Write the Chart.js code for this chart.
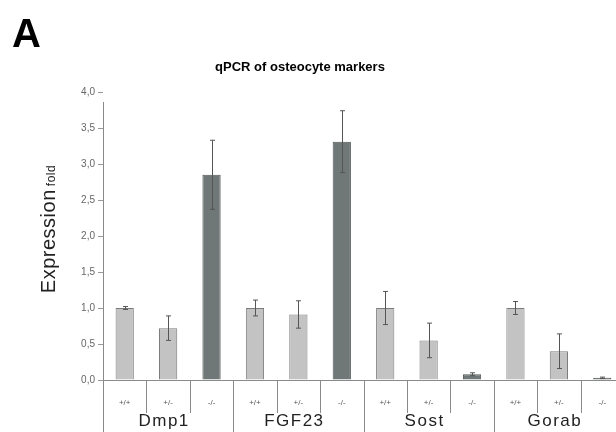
<!DOCTYPE html>
<html>
<head>
<meta charset="utf-8">
<script src="https://cdn.jsdelivr.net/npm/chart.js@4"></script>
<style>
  html, body { margin: 0; padding: 0; background: #fff; overflow: hidden; }
  #wrap { width: 640px; height: 432px; position: relative; }
</style>
</head>
<body>
<div id="wrap"><canvas id="chart"></canvas></div>
<script>
// data
const genes = ['Dmp1', 'FGF23', 'Sost', 'Gorab'];
const genotypes = ['+/+', '+/-', '-/-'];
const labels = [];
genes.forEach(g => genotypes.forEach(t => labels.push(g + ' ' + t)));

const values = [1.0, 0.72, 2.85, 1.0, 0.91, 3.31, 1.0, 0.55, 0.08, 1.0, 0.40, 0.03];
const errors = [0.02, 0.17, 0.48, 0.11, 0.19, 0.43, 0.23, 0.24, 0.02, 0.09, 0.24, 0.01];
const yTicks = [0, 0.5, 1, 1.5, 2, 2.5, 3, 3.5, 4];

const light = '#c3c3c3', lightBorder = '#7c7c7c';
const dark = '#6f7777', darkBorder = '#505656';
const isKO = (i) => i % 3 === 2;

const errorBars = {
  id: 'errorBars',
  afterDatasetsDraw(chart) {
    const ctx = chart.ctx, x = chart.scales.x, y = chart.scales.y;
    ctx.save();
    ctx.strokeStyle = '#555';
    ctx.lineWidth = 1;
    values.forEach((v, i) => {
      const px = Math.round(x.getPixelForValue(i)) + 0.5;
      const top = y.getPixelForValue(v + errors[i]);
      const bot = y.getPixelForValue(v - errors[i]);
      ctx.beginPath();
      ctx.moveTo(px, top); ctx.lineTo(px, bot);
      ctx.moveTo(px - 2.5, top); ctx.lineTo(px + 2.5, top);
      ctx.moveTo(px - 2.5, bot); ctx.lineTo(px + 2.5, bot);
      ctx.stroke();
    });
    ctx.restore();
  }
};

const decorations = {
  id: 'decorations',
  afterDraw(chart) {
    const ctx = chart.ctx, x = chart.scales.x, y = chart.scales.y;
    const area = chart.chartArea;
    const step = x.getPixelForValue(1) - x.getPixelForValue(0);
    ctx.save();

    // panel letter and title
    ctx.fillStyle = '#000';
    ctx.font = 'bold 40px "Liberation Sans", Arial, sans-serif';
    ctx.textBaseline = 'alphabetic';
    ctx.textAlign = 'left';
    ctx.fillText('A', 12, 47);
    ctx.font = 'bold 13px "Liberation Sans", Arial, sans-serif';
    ctx.textAlign = 'center';
    ctx.textBaseline = 'middle';
    ctx.fillText('qPCR of osteocyte markers', 300, 67);

    // y axis title, both words on one baseline
    ctx.save();
    ctx.translate(55, 229);
    ctx.rotate(-Math.PI / 2);
    ctx.fillStyle = '#222';
    ctx.textAlign = 'left';
    ctx.textBaseline = 'alphabetic';
    ctx.font = '20px "Liberation Sans", Arial, sans-serif';
    ctx.letterSpacing = '0.5px';
    const w1 = ctx.measureText('Expression').width;
    ctx.font = '12px "Liberation Sans", Arial, sans-serif';
    const w2 = ctx.measureText('fold').width;
    const start = -(w1 + 3 + w2) / 2;
    ctx.font = '20px "Liberation Sans", Arial, sans-serif';
    ctx.fillText('Expression', start, 0);
    ctx.font = '12px "Liberation Sans", Arial, sans-serif';
    ctx.fillText('fold', start + w1 + 3, 0);
    ctx.restore();

    // axis lines below zero and category separators
    ctx.strokeStyle = '#8a8a8a';
    ctx.lineWidth = 1;
    const base = Math.round(area.bottom) + 0.5;
    ctx.beginPath();
    ctx.moveTo(Math.round(area.left) + 0.5, area.top + 10);
    ctx.lineTo(Math.round(area.left) + 0.5, 432);
    for (let i = 1; i <= labels.length; i++) {
      const px = Math.round(x.getPixelForValue(i) - step / 2) + 0.5;
      ctx.moveTo(px, base);
      ctx.lineTo(px, i % 3 === 0 ? 432 : 413);
    }
    ctx.stroke();

    // genotype labels
    ctx.fillStyle = '#555';
    ctx.font = '8px "Liberation Sans", Arial, sans-serif';
    ctx.textAlign = 'center';
    ctx.textBaseline = 'middle';
    labels.forEach((l, i) => {
      ctx.fillText(genotypes[i % 3], x.getPixelForValue(i), 403);
    });

    // gene labels
    ctx.fillStyle = '#222';
    ctx.font = '17px "Liberation Sans", Arial, sans-serif';
    ctx.letterSpacing = '1.5px';
    genes.forEach((g, gi) => {
      ctx.fillText(g, x.getPixelForValue(gi * 3 + 1) - 4, 421);
    });
    ctx.restore();
  }
};

new Chart(document.getElementById('chart'), {
  type: 'bar',
  data: {
    labels: labels,
    datasets: [{
      data: values,
      backgroundColor: values.map((v, i) => isKO(i) ? dark : light),
      borderColor: values.map((v, i) => isKO(i) ? darkBorder : lightBorder),
      borderWidth: 1,
      barPercentage: 0.84,
      categoryPercentage: 0.5
    }]
  },
  options: {
    responsive: true,
    maintainAspectRatio: false,
    animation: false,
    layout: { padding: { top: 92, right: 16, left: 0, bottom: 0 } },
    plugins: { legend: { display: false }, tooltip: { enabled: false }, title: { display: false } },
    scales: {
      x: {
        ticks: { display: false },
        grid: { display: false },
        border: { color: '#8a8a8a' },
        afterFit: s => { s.height = 52; }
      },
      y: {
        min: 0,
        max: 4,
        afterBuildTicks: s => { s.ticks = yTicks.map(v => ({ value: v })); },
        afterFit: s => { s.width = 103; },
        ticks: {
          color: '#666',
          font: { size: 10, family: '"Liberation Sans", Arial, sans-serif' },
          padding: 3,
          callback: v => v.toFixed(1).replace('.', ',')
        },
        grid: { drawOnChartArea: false, tickLength: 5, color: '#999' },
        border: { display: false }
      }
    }
  },
  plugins: [errorBars, decorations]
});
</script>
</body>
</html>
